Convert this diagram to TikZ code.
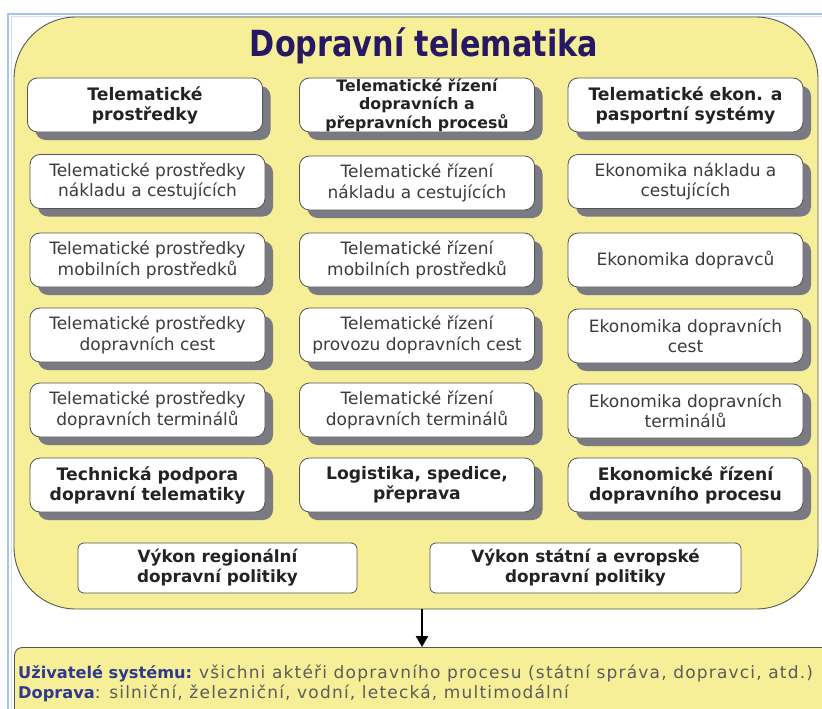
\documentclass[tikz,border=0pt]{standalone}
\usepackage{fontspec}
\setmainfont{DejaVu Sans}
\usetikzlibrary{shadows,arrows.meta}
\definecolor{frameblue}{RGB}{168,196,236}
\definecolor{panelyellow}{RGB}{246,239,152}
\definecolor{edgegray}{RGB}{85,85,85}
\definecolor{shadowgray}{RGB}{122,122,130}
\definecolor{titlenavy}{RGB}{38,24,98}
\definecolor{textdark}{RGB}{35,35,35}
\definecolor{textreg}{RGB}{60,60,60}
\definecolor{userblue}{RGB}{48,58,140}
\definecolor{usergray}{RGB}{92,92,92}
\tikzset{
  cell/.style={draw=edgegray, line width=0.8pt, fill=white, rounded corners=10pt,
    minimum width=235pt, minimum height=54pt, inner sep=0pt, align=center,
    drop shadow={shadow xshift=8pt, shadow yshift=-8pt, fill=shadowgray, opacity=1},
    text=textreg, font=\fontsize{17}{20.5}\selectfont},
  headcell/.style={cell, text=textdark, font=\bfseries\fontsize{17.2}{20}\selectfont},
  policy/.style={draw=edgegray, line width=0.8pt, fill=white, rounded corners=6pt,
    minimum height=50pt, inner sep=0pt, align=center, text=textdark,
    font=\bfseries\fontsize{16.8}{20}\selectfont},
  arr/.style={line width=2.4pt, -{Triangle[length=11pt,width=12pt]}}
}
\begin{document}
\begin{tikzpicture}[x=1pt,y=-1pt]
\clip (0,0) rectangle (822,709);
\fill[white] (0,0) rectangle (822,709);
% window frame
\draw[frameblue, line width=2.5pt] (8,760) -- (8,14) -- (900,14);
\draw[frameblue!50, line width=1pt] (11,760) -- (11,17) -- (900,17);
% main panel
\node[draw=edgegray, line width=0.9pt, fill=panelyellow, rounded corners=62pt,
  minimum width=804pt, minimum height=592pt, inner sep=0pt] (main) at (416,313) {};
\node[text=titlenavy, font=\bfseries\fontsize{36}{40}\selectfont] (title) at (424,46)
  {\scalebox{0.84}[1]{Dopravní telematika}};
% column 1
\node[headcell] (a1) at (145,105) {Telematické\\prostředky};
\node[cell] (a2) at (147.5,181.5) {Telematické prostředky\\nákladu a cestujících};
\node[cell] (a3) at (147.5,260) {Telematické prostředky\\mobilních prostředků};
\node[cell] (a4) at (147.5,335) {Telematické prostředky\\dopravních cest};
\node[cell] (a5) at (147.5,410) {Telematické prostředky\\dopravních terminálů};
\node[headcell] (a6) at (147.5,485) {Technická podpora\\dopravní telematiky};
% column 2
\node[headcell, font=\bfseries\fontsize{15.8}{18.5}\selectfont] (b1) at (417,105)
  {Telematické řízení\\dopravních a\\přepravních procesů};
\node[cell] (b2) at (417,183) {Telematické řízení\\nákladu a cestujících};
\node[cell] (b3) at (417,260) {Telematické řízení\\mobilních prostředků};
\node[cell] (b4) at (417,335) {Telematické řízení\\provozu dopravních cest};
\node[cell] (b5) at (417,410) {Telematické řízení\\dopravních terminálů};
\node[headcell] (b6) at (417,485) {Logistika, spedice,\\přeprava};
% column 3
\node[headcell] (c1) at (685.5,105) {Telematické ekon. a\\pasportní systémy};
\node[cell] (c2) at (685.5,181.5) {Ekonomika nákladu a\\cestujících};
\node[cell] (c3) at (685.5,260) {Ekonomika dopravců};
\node[cell] (c4) at (685.5,336) {Ekonomika dopravních\\cest};
\node[cell] (c5) at (685.5,411) {Ekonomika dopravních\\terminálů};
\node[headcell] (c6) at (685.5,485) {Ekonomické řízení\\dopravního procesu};
% policy boxes
\node[policy, minimum width=279pt] (p1) at (217.5,568) {Výkon regionální\\dopravní politiky};
\node[policy, minimum width=311pt] (p2) at (585.5,568) {Výkon státní a evropské\\dopravní politiky};
% users box
\node[draw=edgegray, line width=0.9pt, fill=panelyellow, rounded corners=8pt,
  minimum width=830pt, minimum height=90pt, inner sep=0pt, anchor=north west] (users) at (14,647) {};
\node[anchor=west, align=left, inner sep=0pt, font=\fontsize{16.2}{20}\selectfont, text=usergray] (utext) at (18,683)
  {\textcolor{userblue}{\bfseries Uživatelé systému:} {\addfontfeature{LetterSpace=7}\fontsize{17}{20}\selectfont všichni aktéři dopravního procesu (státní správa, dopravci, atd.)}\\
   \textcolor{userblue}{\bfseries Doprava}{\addfontfeature{LetterSpace=7}\fontsize{17}{20}\selectfont : silniční, železniční, vodní, letecká, multimodální}};
% arrow
\draw[arr] ([xshift=6pt]main.south) -- ([xshift=6pt]main.south |- users.north);
\end{tikzpicture}
\end{document}
